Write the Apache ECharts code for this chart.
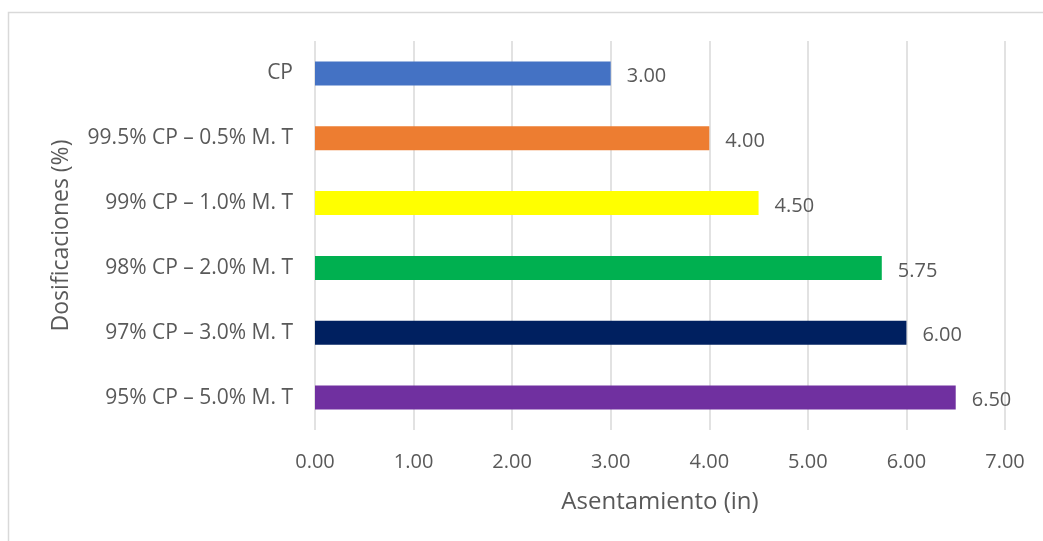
<!DOCTYPE html>
<html>
<head>
<meta charset="utf-8">
<script src="https://cdn.jsdelivr.net/npm/echarts@6/dist/echarts.min.js"></script>
<style>
  html, body { margin: 0; padding: 0; background: #fff; }
  #chart { width: 1043px; height: 541px; }
</style>
</head>
<body>
<div id="chart"></div>
<script>
// top to bottom as drawn
const categories = [
  'CP',
  '99.5% CP – 0.5% M. T',
  '99% CP – 1.0% M. T',
  '98% CP – 2.0% M. T',
  '97% CP – 3.0% M. T',
  '95% CP – 5.0% M. T',
]
const values = [3.0, 4.0, 4.5, 5.75, 6.0, 6.5]
const barColors = ['#4472C4', '#ED7D31', '#FFFF00', '#00B050', '#002060', '#7030A0']

const textColor = '#595959'
const font = '"Open Sans", "Noto Sans", sans-serif'

const chart = echarts.init(document.getElementById('chart'))

chart.setOption({
  backgroundColor: '#fff',
  animation: false,
  graphic: [
    {
      type: 'rect',
      shape: { x: 8.5, y: 12.5, width: 1200, height: 700 },
      style: { fill: 'none', stroke: '#d9d9d9', lineWidth: 1.5 },
      silent: true,
      z: -1,
    },
  ],
  grid: { left: 315, right: 38, top: 41, bottom: 111 },
  xAxis: {
    type: 'value',
    min: 0,
    max: 7,
    interval: 1,
    name: 'Asentamiento (in)',
    nameLocation: 'middle',
    nameGap: 60,
    nameTextStyle: { color: textColor, fontSize: 24, fontFamily: font },
    axisLine: { show: false },
    axisTick: { show: false },
    axisLabel: {
      color: textColor,
      fontSize: 20,
      fontFamily: font,
      margin: 22,
      formatter: v => v.toFixed(2),
    },
    splitLine: { lineStyle: { color: '#d9d9d9', width: 1.5 } },
  },
  yAxis: {
    type: 'category',
    inverse: true,
    data: categories,
    name: 'Dosificaciones (%)',
    nameLocation: 'middle',
    nameGap: 242,
    nameTextStyle: { color: textColor, fontSize: 23, fontFamily: font },
    axisLine: { show: false },
    axisTick: { show: false },
    axisLabel: { color: textColor, fontSize: 21, fontFamily: font, margin: 22 },
  },
  series: [
    {
      type: 'bar',
      barWidth: 24,
      data: values.map((v, i) => ({ value: v, itemStyle: { color: barColors[i] } })),
      label: {
        show: true,
        position: 'right',
        distance: 16,
        offset: [0, 3],
        color: textColor,
        fontSize: 20,
        fontFamily: font,
        formatter: p => p.value.toFixed(2),
      },
    },
  ],
})
</script>
</body>
</html>
